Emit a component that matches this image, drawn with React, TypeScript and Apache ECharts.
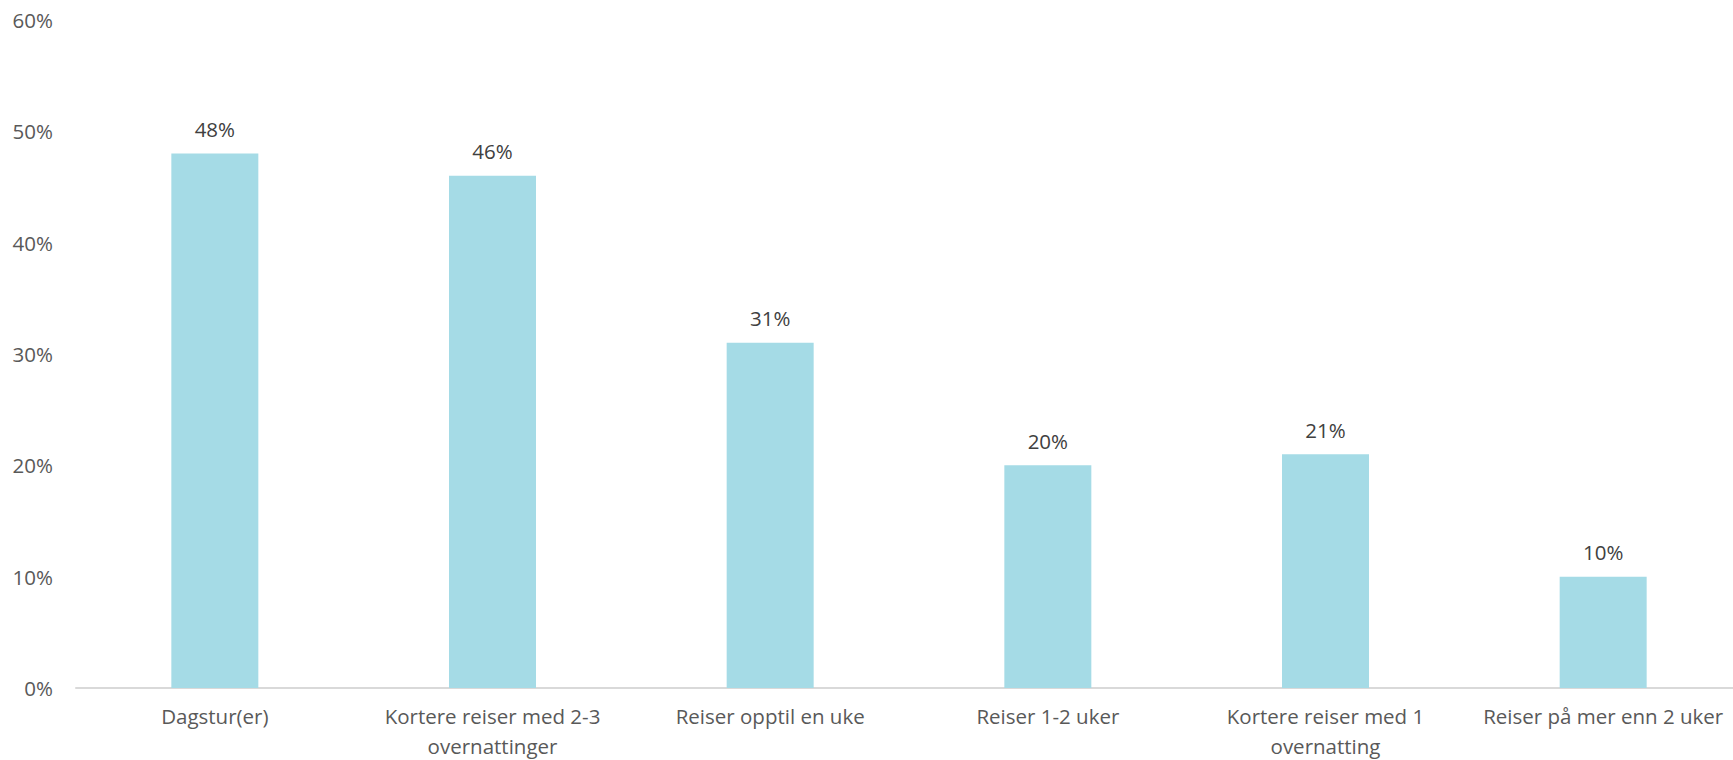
import React, { useEffect, useRef } from "react";
import * as echarts from "echarts";

const categories = [
  "Dagstur(er)",
  "Kortere reiser med 2-3\novernattinger",
  "Reiser opptil en uke",
  "Reiser 1-2 uker",
  "Kortere reiser med 1\novernatting",
  "Reiser på mer enn 2 uker",
];
const values = [48, 46, 31, 20, 21, 10];
const yTicks = { min: 0, max: 60, interval: 10 };

const FONT = "'Open Sans', 'Noto Sans', sans-serif";

export default function App() {
  const ref = useRef<HTMLDivElement>(null);
  useEffect(() => {
    document.body.style.margin = "0";
    const chart = echarts.init(ref.current!, null, { renderer: "svg" });
    chart.setOption({
      animation: false,
      backgroundColor: "#ffffff",
      grid: {
        left: 76,
        right: -9,
        top: 20,
        bottom: 72,
        containLabel: false,
        outerBoundsMode: "none",
      },
      xAxis: {
        type: "category",
        data: categories,
        axisLine: { show: true, lineStyle: { color: "#D9D9D9", width: 2 } },
        axisTick: { show: false },
        axisLabel: {
          color: "#595959",
          fontFamily: FONT,
          fontSize: 20.5,
          lineHeight: 30,
          margin: 13,
          interval: 0,
        },
      },
      yAxis: {
        type: "value",
        min: yTicks.min,
        max: yTicks.max,
        interval: yTicks.interval,
        splitLine: { show: false },
        axisLine: { show: false },
        axisTick: { show: false },
        axisLabel: {
          color: "#595959",
          fontFamily: FONT,
          fontSize: 20.5,
          margin: 23,
          formatter: "{value}%",
        },
      },
      series: [
        {
          type: "bar",
          data: values,
          barWidth: 87,
          itemStyle: { color: "#A5DBE6" },
          label: {
            show: true,
            position: "top",
            distance: 14,
            color: "#404040",
            fontFamily: FONT,
            fontSize: 20.5,
            formatter: "{c}%",
          },
        },
      ],
    });
    return () => chart.dispose();
  }, []);
  return (
    <div
      ref={ref}
      style={{ position: "absolute", left: 0, top: 0, width: 1733, height: 760 }}
    />
  );
}
